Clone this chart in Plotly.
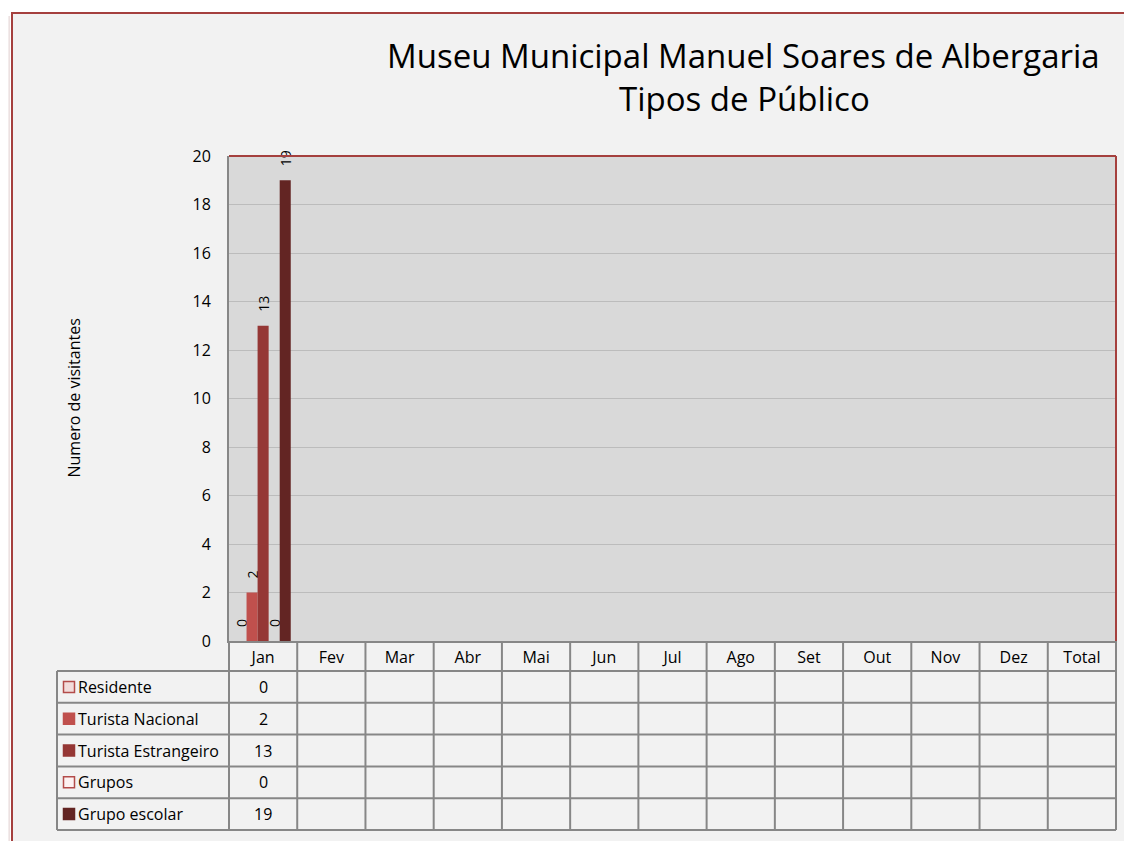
import plotly.graph_objects as go

# ---------------- data ----------------
months = ["Jan", "Fev", "Mar", "Abr", "Mai", "Jun", "Jul", "Ago", "Set", "Out", "Nov", "Dez", "Total"]
series_names = ["Residente", "Turista Nacional", "Turista Estrangeiro", "Grupos", "Grupo escolar"]
residente = [0] + [None] * 12
turista_nacional = [2] + [None] * 12
turista_estrangeiro = [13] + [None] * 12
grupos = [0] + [None] * 12
grupo_escolar = [19] + [None] * 12
y_ticks = [0, 2, 4, 6, 8, 10, 12, 14, 16, 18, 20]

title_line1 = "Museu Municipal Manuel Soares de Albergaria"
title_line2 = "Tipos de Público"
y_title = "Numero de visitantes"

# ---------------- style ----------------
series_values = [residente, turista_nacional, turista_estrangeiro, grupos, grupo_escolar]
bar_colors = ["#f2dcdb", "#c0504d", "#953735", "#fdf2f2", "#632523"]
marker_borders = ["#b34c4a", "#c0504d", "#953735", "#b34c4a", "#632523"]

FONT = "Open Sans"
OFF = 8                      # page body margin
W, H = 1132 - OFF, 841 - OFF
PLOT_L, PLOT_T, PLOT_R, PLOT_B = 229, 156, 1116, 641   # screen px
L, T = PLOT_L - OFF, PLOT_T - OFF
R, B = W - (PLOT_R - OFF), H - (PLOT_B - OFF)
PW, PH = PLOT_R - PLOT_L, PLOT_B - PLOT_T
HEADER_H = 30
ROW_H = 31.8
TABLE_LEFT = 57
GRID_GREY = "#878787"
RED = "#a5403e"

def px(sx):   # screen x -> paper x
    return (sx - PLOT_L) / PW

def py(sy):   # screen y -> paper y
    return (PLOT_B - sy) / PH

ncat = len(months)
fig = go.Figure()

pad = "\u00a0" * 3
for name, vals, col in zip(series_names, series_values, bar_colors):
    fig.add_trace(go.Bar(
        name=name, x=months, y=vals,
        marker=dict(color=col, line=dict(width=0)),
        text=[(pad + str(v)) if v is not None else "" for v in vals],
        textposition="outside", textangle=-90,
        textfont=dict(family=FONT, size=14, color="#000000"),
        constraintext="none", cliponaxis=False,
        showlegend=False, hoverinfo="x+y+name",
    ))

shapes = []
annotations = []

# white page outside the chart frame
shapes.append(dict(type="rect", xref="paper", yref="paper", x0=px(-20), x1=px(1200),
                   y0=py(12), y1=py(-20), fillcolor="white", line=dict(width=0), layer="below"))
shapes.append(dict(type="rect", xref="paper", yref="paper", x0=px(-20), x1=px(11),
                   y0=py(900), y1=py(-20), fillcolor="white", line=dict(width=0), layer="below"))
# soft shadow on the left
for k, op in enumerate([0.05, 0.09, 0.14]):
    shapes.append(dict(type="line", xref="paper", yref="paper",
                       x0=px(7.5 + k), x1=px(7.5 + k), y0=py(900), y1=py(16),
                       line=dict(color=f"rgba(120,40,40,{op})", width=1), layer="below"))
shapes.append(dict(type="rect", xref="paper", yref="paper", x0=px(12), x1=px(1200),
                   y0=py(900), y1=py(13), line=dict(color=RED, width=2), fillcolor="rgba(0,0,0,0)",
                   layer="below"))

# plot area top and right border (red)
shapes.append(dict(type="line", xref="paper", yref="paper", x0=0, x1=1, y0=1, y1=1,
                   line=dict(color=RED, width=2)))
shapes.append(dict(type="line", xref="paper", yref="paper", x0=1, x1=1, y0=0, y1=1,
                   line=dict(color=RED, width=2)))

# data table grid
table_bottom = py(PLOT_B + HEADER_H + ROW_H * len(series_names))
for i in range(ncat + 1):
    shapes.append(dict(type="line", xref="paper", yref="paper", x0=i / ncat, x1=i / ncat,
                       y0=0, y1=table_bottom, line=dict(color=GRID_GREY, width=2)))
shapes.append(dict(type="line", xref="paper", yref="paper", x0=px(TABLE_LEFT), x1=px(TABLE_LEFT),
                   y0=py(PLOT_B + HEADER_H), y1=table_bottom, line=dict(color=GRID_GREY, width=2)))
for r in range(len(series_names) + 1):
    yy = py(PLOT_B + HEADER_H + r * ROW_H)
    shapes.append(dict(type="line", xref="paper", yref="paper", x0=px(TABLE_LEFT), x1=1,
                       y0=yy, y1=yy, line=dict(color=GRID_GREY, width=2)))

# legend keys + labels and cell values
for r, (name, vals) in enumerate(zip(series_names, series_values)):
    yc = PLOT_B + HEADER_H + (r + 0.5) * ROW_H
    shapes.append(dict(type="rect", xref="paper", yref="paper",
                       x0=px(63.5), x1=px(74.5), y0=py(yc + 5.5), y1=py(yc - 5.5),
                       fillcolor=bar_colors[r], line=dict(color=marker_borders[r], width=1.5)))
    annotations.append(dict(xref="paper", yref="paper", x=px(76), y=py(yc),
                            text=name, showarrow=False, xanchor="left", yanchor="middle",
                            font=dict(family=FONT, size=16, color="#000000")))
    for i, v in enumerate(vals):
        if v is not None:
            annotations.append(dict(xref="paper", yref="paper", x=(i + 0.5) / ncat, y=py(yc),
                                    text=str(v), showarrow=False, xanchor="center", yanchor="middle",
                                    font=dict(family=FONT, size=16, color="#000000")))

# y axis title
annotations.append(dict(xref="paper", yref="paper", x=px(73), y=0.5, text=y_title,
                        textangle=-90, showarrow=False, xanchor="center", yanchor="middle",
                        font=dict(family=FONT, size=16, color="#000000")))
# title
annotations.append(dict(xref="paper", yref="paper", x=px(743), y=py(55), text=title_line1,
                        showarrow=False, xanchor="center", yanchor="middle",
                        font=dict(family=FONT, size=33, color="#000000")))
annotations.append(dict(xref="paper", yref="paper", x=px(744), y=py(99), text=title_line2,
                        showarrow=False, xanchor="center", yanchor="middle",
                        font=dict(family=FONT, size=33, color="#000000")))

fig.update_layout(
    width=W, height=H, autosize=False,
    margin=dict(l=L, r=R, t=T, b=B, pad=0),
    paper_bgcolor="#f2f2f2", plot_bgcolor="#d9d9d9",
    barmode="group", bargap=0.19, bargroupgap=0,
    shapes=shapes, annotations=annotations,
    font=dict(family=FONT, size=16, color="#000000"),
    showlegend=False,
    xaxis=dict(type="category", categoryorder="array", categoryarray=months,
               range=[-0.5, ncat - 0.5], showgrid=False, zeroline=False,
               showline=True, linecolor=GRID_GREY, linewidth=2,
               ticks="", ticklabelstandoff=1,
               tickfont=dict(family=FONT, size=16, color="#000000"), fixedrange=True),
    yaxis=dict(range=[0, 20], tickvals=y_ticks, showgrid=True, gridcolor="#bcbcbc", gridwidth=1,
               zeroline=False, showline=True, linecolor=GRID_GREY, linewidth=2,
               ticks="", ticklabelstandoff=13,
               tickfont=dict(family=FONT, size=16, color="#000000"), fixedrange=True),
)

fig.write_html("out.html")
